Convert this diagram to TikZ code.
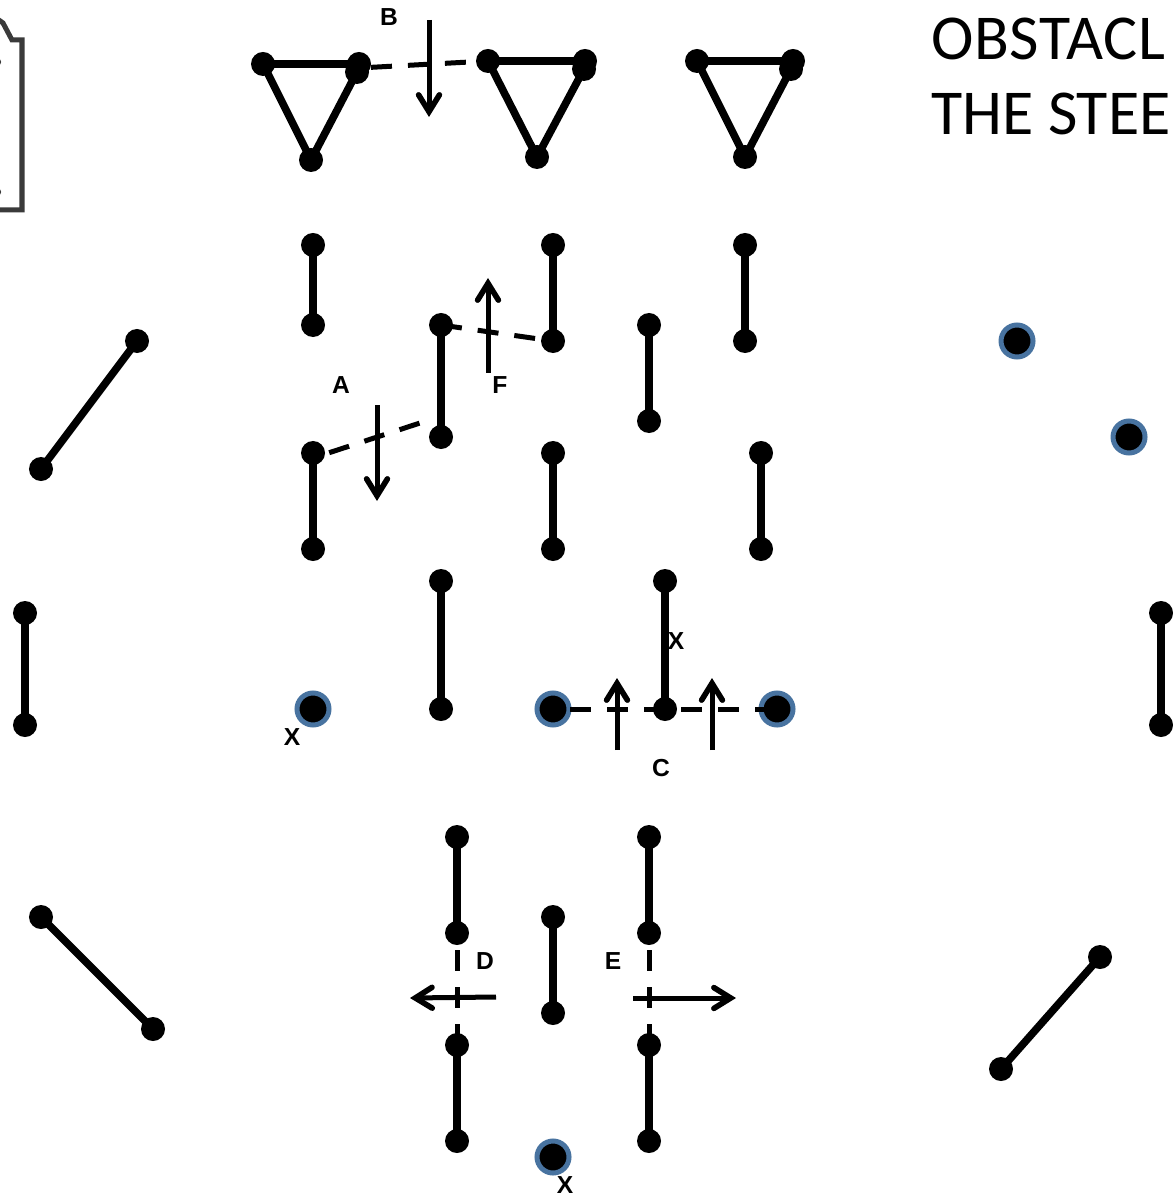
\documentclass[tikz,border=0pt]{standalone}
\usepackage{fontspec}
\setmainfont{Liberation Sans}
\newfontfamily\titlefont{Carlito}
\usetikzlibrary{arrows.meta,positioning}
\tikzset{
  dot/.style={circle,fill=black,inner sep=0pt,outer sep=0pt,minimum size=0.6cm},
  ringdot/.style={circle,fill=black,draw=ringblue,line width=0.125cm,inner sep=0pt,outer sep=0pt,minimum size=0.8cm},
  bar/.style={line width=0.19cm,shorten <=-0.05cm,shorten >=-0.05cm},
  dashbar/.style={line width=0.125cm,dash pattern=on 0.525cm off 0.4cm,dash phase=0.5cm},
  move/.style={->,line width=0.125cm},
  letter/.style={font=\fontsize{17.5}{20}\selectfont\bfseries,inner sep=0pt},
  headline/.style={font=\titlefont\fontsize{45.5}{50}\selectfont,inner sep=0pt,anchor=base west}
}
\definecolor{ringblue}{RGB}{72,115,160}
\definecolor{postgrey}{RGB}{58,58,58}
\begin{document}
\begin{tikzpicture}[x=0.025cm,y=-0.025cm,>={Straight Barb[length=0.42cm,width=0.52cm,line width=0.14cm,line cap=round]}]
   \useasboundingbox (0,0) rectangle (1172,1200);
   % post at the left edge
   \draw[postgrey,line width=0.125cm,miter limit=10] (-4,18) -- (3,23) -- (12,40) -- (22,40) -- (22,210) -- (-4,210);
   \fill[postgrey] (-2,62) circle (0.08cm) (-2,192) circle (0.08cm);
   % top row
   \node[dot] (t1a) at (263,64) {};
   \node[dot] (t1b) at (359,64) {};
   \node[dot] (t1c) at (357,72) {};
   \node[dot] (t1d) at (311,160) {};
   \node[dot] (t2a) at (488,61) {};
   \node[dot] (t2b) at (585,61) {};
   \node[dot] (t2c) at (584,69) {};
   \node[dot] (t2d) at (537,157) {};
   \node[dot] (t3a) at (697,61) {};
   \node[dot] (t3b) at (793,61) {};
   \node[dot] (t3c) at (791,69) {};
   \node[dot] (t3d) at (745,157) {};
   % bars
   \node[dot] (b1a) at (313,245) {};
   \node[dot] (b1b) at (313,325) {};
   \node[dot] (b2a) at (553,245) {};
   \node[dot] (b2b) at (553,341) {};
   \node[dot] (b3a) at (745,245) {};
   \node[dot] (b3b) at (745,341) {};
   \node[dot] (b4a) at (441,325) {};
   \node[dot] (b4b) at (441,437) {};
   \node[dot] (b5a) at (649,325) {};
   \node[dot] (b5b) at (649,421) {};
   \node[dot] (b6a) at (137,341) {};
   \node[dot] (b6b) at (41,469) {};
   \node[dot] (b7a) at (313,453) {};
   \node[dot] (b7b) at (313,549) {};
   \node[dot] (b8a) at (553,453) {};
   \node[dot] (b8b) at (553,549) {};
   \node[dot] (b9a) at (761,453) {};
   \node[dot] (b9b) at (761,549) {};
   \node[dot] (c1a) at (25,613) {};
   \node[dot] (c1b) at (25,725) {};
   \node[dot] (c2a) at (441,581) {};
   \node[dot] (c2b) at (441,709) {};
   \node[dot] (c3a) at (665,581) {};
   \node[dot] (c3b) at (665,709) {};
   \node[dot] (c4a) at (1161,613) {};
   \node[dot] (c4b) at (1161,725) {};
   \node[dot] (d1a) at (457,837) {};
   \node[dot] (d1b) at (457,933) {};
   \node[dot] (d2a) at (649,837) {};
   \node[dot] (d2b) at (649,933) {};
   \node[dot] (d3a) at (553,917) {};
   \node[dot] (d3b) at (553,1013) {};
   \node[dot] (d4a) at (41,917) {};
   \node[dot] (d4b) at (153,1029) {};
   \node[dot] (d5a) at (1100,957) {};
   \node[dot] (d5b) at (1001,1069) {};
   \node[dot] (d6a) at (457,1045) {};
   \node[dot] (d6b) at (457,1141) {};
   \node[dot] (d7a) at (649,1045) {};
   \node[dot] (d7b) at (649,1141) {};
   % ringed dots
   \node[ringdot] (r1) at (1017,341) {};
   \node[ringdot] (r2) at (1129,437) {};
   \node[ringdot] (r3) at (313,709) {};
   \node[ringdot] (r4) at (553,709) {};
   \node[ringdot] (r5) at (777,709) {};
   \node[ringdot] (r6) at (553,1157) {};
   \path[bar]
    (t1a) edge (t1b) edge (t1d)
    (t1c) edge (t1d)
    (t2a) edge (t2b) edge (t2d)
    (t2c) edge (t2d)
    (t3a) edge (t3b) edge (t3d)
    (t3c) edge (t3d)
    (b1a) edge (b1b)
    (b2a) edge (b2b)
    (b3a) edge (b3b)
    (b4a) edge (b4b)
    (b5a) edge (b5b)
    (b6a) edge (b6b)
    (b7a) edge (b7b)
    (b8a) edge (b8b)
    (b9a) edge (b9b)
    (c1a) edge (c1b)
    (c2a) edge (c2b)
    (c3a) edge (c3b)
    (c4a) edge (c4b)
    (d1a) edge (d1b)
    (d2a) edge (d2b)
    (d3a) edge (d3b)
    (d4a) edge (d4b)
    (d5a) edge (d5b)
    (d6a) edge (d6b)
    (d7a) edge (d7b);
   % dashed links
   \coordinate (a1) at (420,423);
   \path[dashbar]
    ([yshift=-0.1cm]t1b.center) edge [dash phase=0.625cm] (t2a.center)
    (b4a.center) edge [dash phase=0cm] (b2b.center)
    ([yshift=-0.125cm]b7a.center) edge (a1)
    (r4.center) edge (r5.center)
    (d1b.center) edge (d6a.center)
    (d2b.center) edge (d7a.center);
   % arrows
   \coordinate (mb1) at (429,20);
   \coordinate (mb2) at (429,117);
   \coordinate (ma1) at (377,405);
   \coordinate (ma2) at (377,501);
   \coordinate (mf1) at (488,373);
   \coordinate (mf2) at (488,278);
   \coordinate (mc1) at (617,750);
   \coordinate (mc2) at (617,678);
   \coordinate (mg1) at (712,750);
   \coordinate (mg2) at (712,678);
   \coordinate (md1) at (496,997);
   \coordinate (md2) at (410,998);
   \coordinate (me1) at (633,998);
   \coordinate (me2) at (736,998);
   \path[move]
    (mb1) edge (mb2)
    (ma1) edge (ma2)
    (mf1) edge (mf2)
    (mc1) edge (mc2)
    (mg1) edge (mg2)
    (md1) edge (md2)
    (me1) edge (me2);
   % letters
   \node[letter] (lb) at (389,17) {B};
   \node[letter] (la) at (341,385) {A};
   \node[letter] (lf) at (500,385) {F};
   \node[letter] (lx1) at (676,641) {X};
   \node[letter] (lc) at (661,768) {C};
   \node[letter] (lx2) at (292,737) {X};
   \node[letter] (ld) at (485,961) {D};
   \node[letter] (le) at (613,961) {E};
   \node[letter] (lx3) at (565,1185) {X};
   % heading
   \node[headline] (h1) at (931,60) {\addfontfeature{LetterSpace=1.2}OBSTACL};
   \node[headline] (h2) at (931,135) {THE STEE};
\end{tikzpicture}
\end{document}
